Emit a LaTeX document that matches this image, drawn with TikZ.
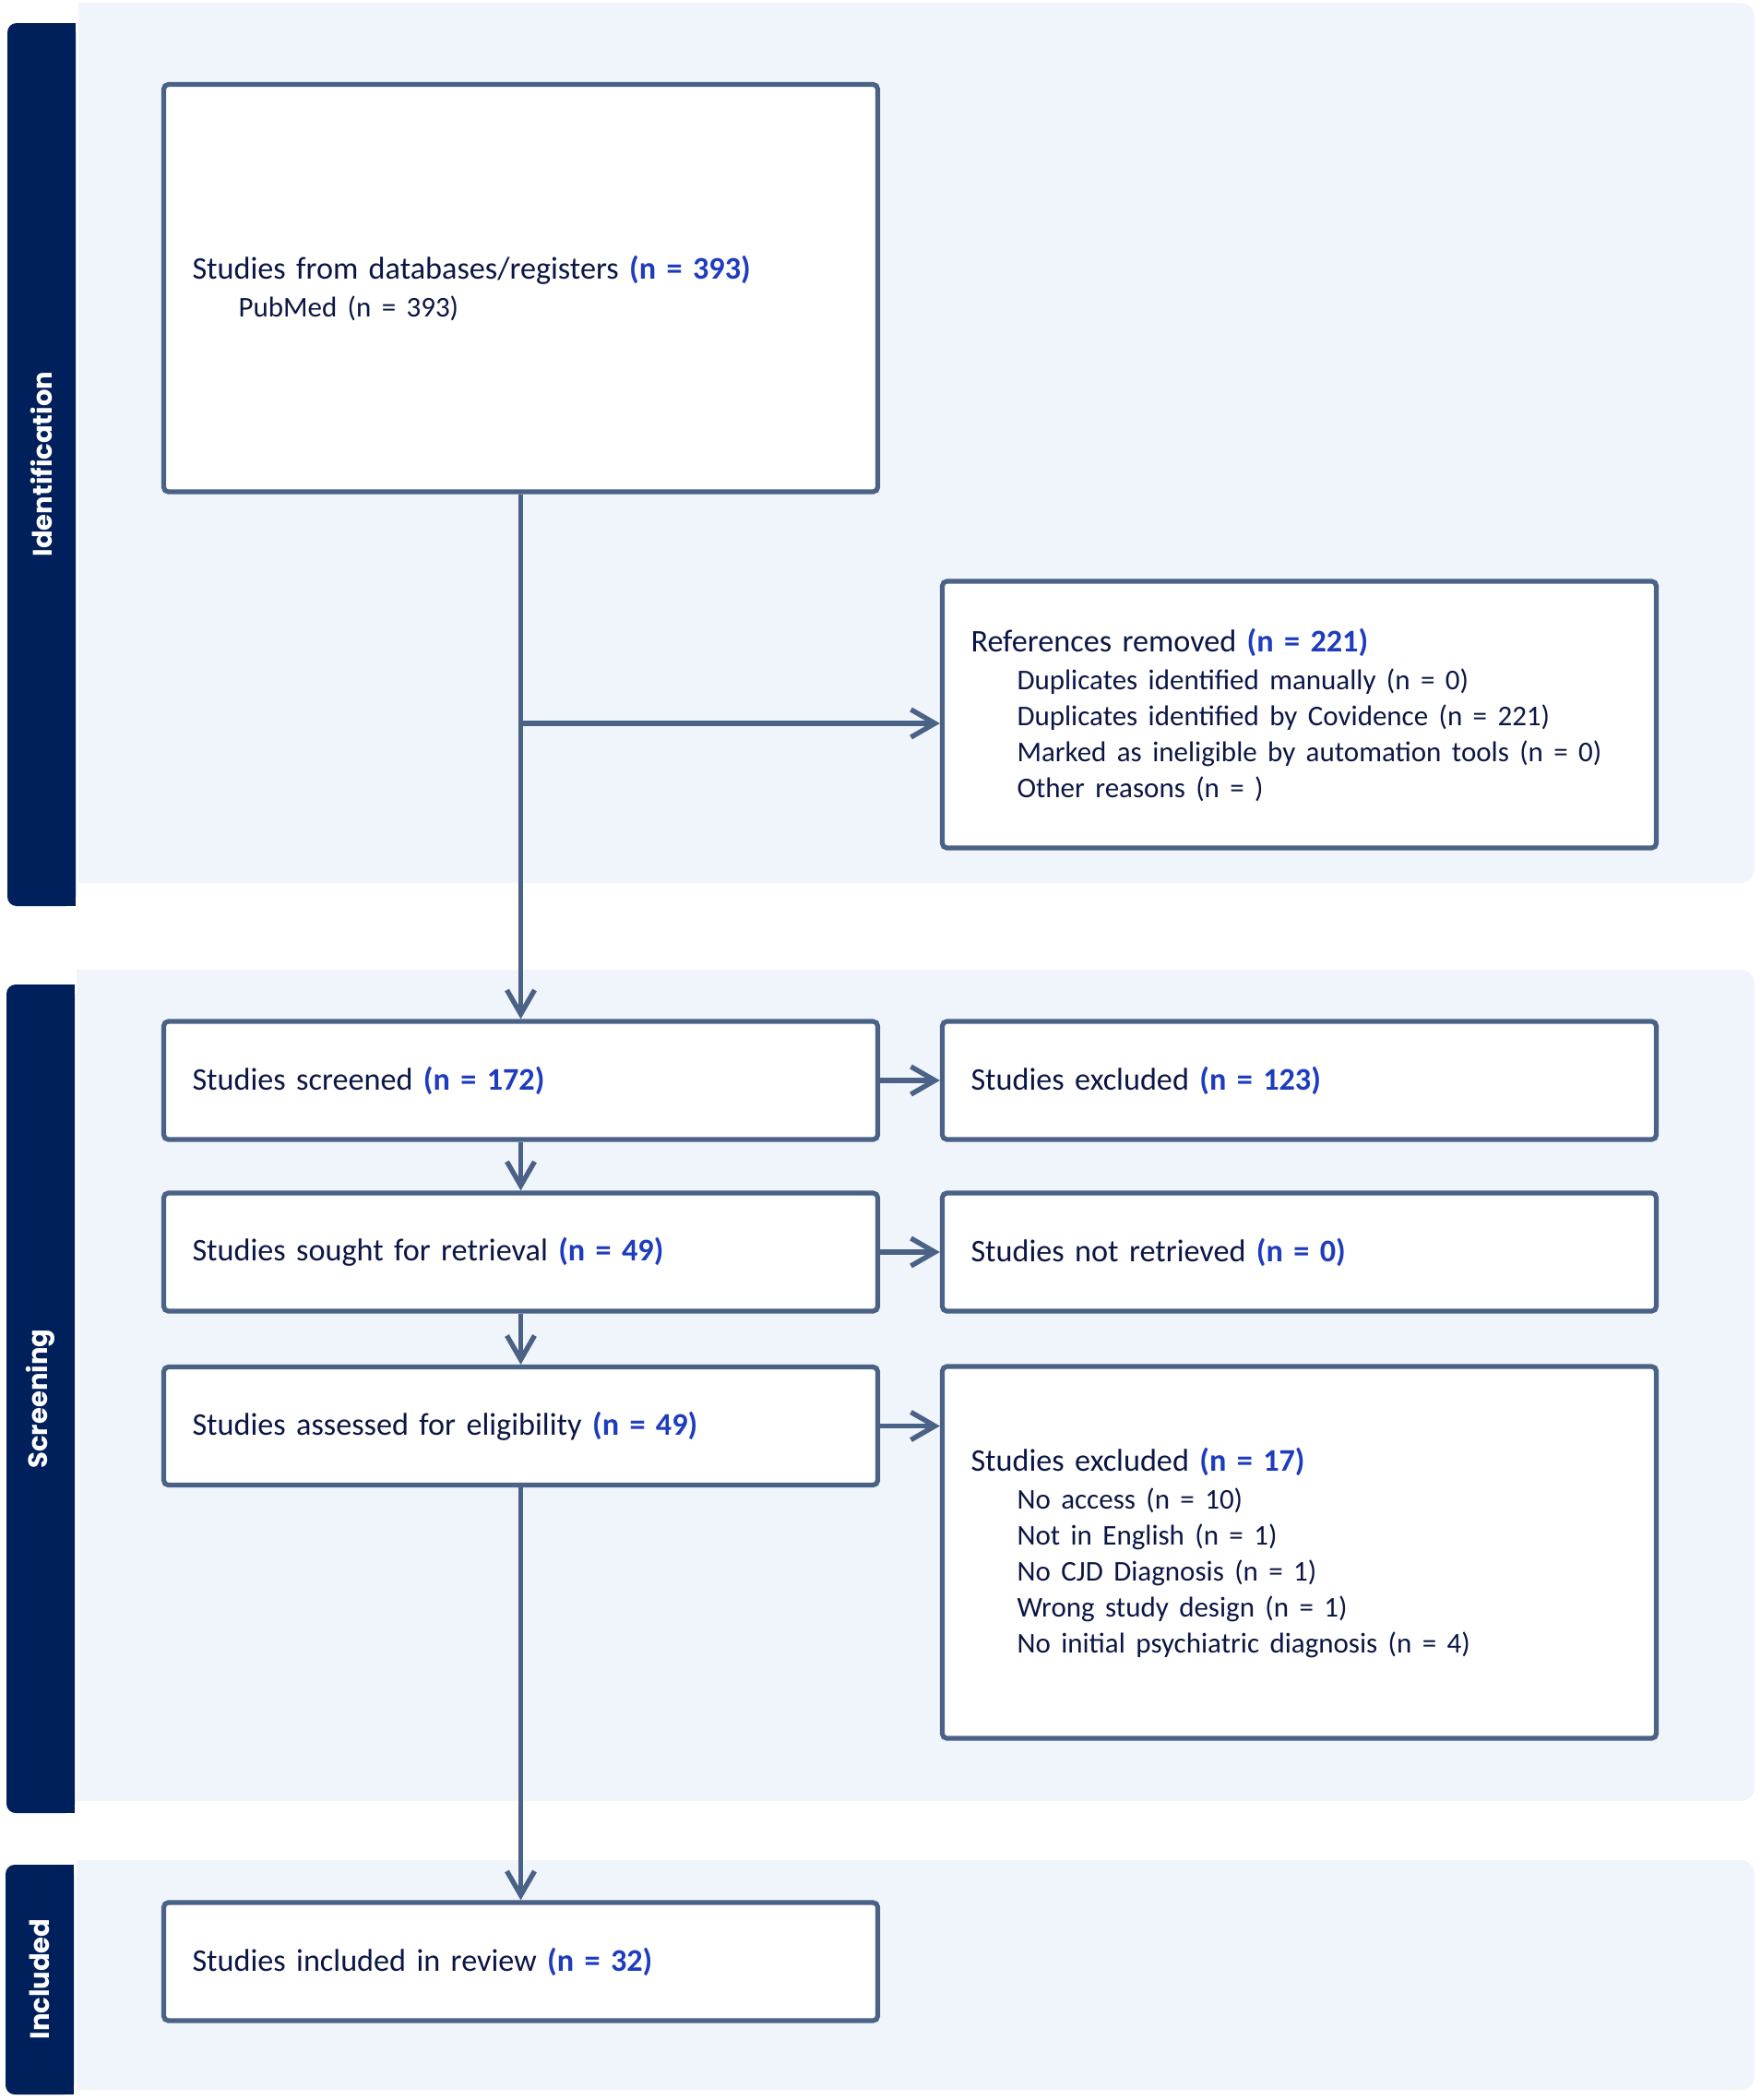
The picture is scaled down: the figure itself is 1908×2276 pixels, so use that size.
\documentclass[tikz,border=0pt]{standalone}
\usepackage{fontspec}
\setmainfont{Carlito}[WordSpace=0.88]
\newfontfamily\bandfont{Poppins}
\usetikzlibrary{arrows.meta}
\definecolor{navy}{RGB}{0,32,91}
\definecolor{bandbg}{RGB}{240,245,252}
\definecolor{edge}{RGB}{74,98,134}
\definecolor{ink}{RGB}{12,22,70}
\definecolor{nblue}{RGB}{30,60,190}
\newcommand{\nb}[1]{{\bfseries\color{nblue}#1}}
\newcommand{\subsz}{\fontsize{15.5}{19.5}\selectfont}
\newcommand{\ind}{\hspace*{25pt}}
\tikzset{
  boxnode/.style={draw=edge, line width=2.6pt, fill=white, rounded corners=2.5pt,
    align=left, inner xsep=15.5pt, inner ysep=0pt, text width=356pt,
    minimum width=387pt, text=ink, font=\fontsize{17.1}{19.5}\selectfont},
  flow/.style={draw=edge, line width=2.7pt, -{Straight Barb[length=13pt,width=15pt,line width=2.7pt]}},
  bandlabel/.style={text=white, font=\bandfont\bfseries\fontsize{14.5}{16}\selectfont, rotate=90}
}
\begin{document}
\begin{tikzpicture}[x=0.5pt,y=-0.5pt]
\useasboundingbox (0,0) rectangle (1908,2276);
% light bands
\fill[bandbg, rounded corners=7.5pt] (85,3) rectangle (1902,957);
\fill[bandbg] (85,3) rectangle (300,957);
\fill[bandbg, rounded corners=7.5pt] (83,1051) rectangle (1902,1952);
\fill[bandbg] (83,1051) rectangle (300,1952);
\fill[bandbg, rounded corners=7.5pt] (83,2016) rectangle (1902,2265);
\fill[bandbg] (83,2016) rectangle (300,2265);
% navy bars
\fill[navy, rounded corners=5pt] (8,25) rectangle (82,982);
\fill[navy] (40,25) rectangle (82,982);
\fill[navy, rounded corners=5pt] (7,1067) rectangle (81,1965);
\fill[navy] (40,1067) rectangle (81,1965);
\fill[navy, rounded corners=5pt] (6,2021) rectangle (80,2270);
\fill[navy] (40,2021) rectangle (80,2270);
\node[bandlabel] (lid) at (45,503) {Identification};
\node[bandlabel] (lscr) at (44,1516) {Screening};
\node[bandlabel] (linc) at (43,2145) {Included};
% boxes
\node[boxnode, minimum height=220.75pt] (b1) at (564.5,312.25)
  {Studies from databases/registers \nb{(n = 393)}\\[1pt]
   {\subsz\ind PubMed (n = 393)}};
\node[boxnode, minimum height=144.5pt] (ref) at (1408.5,774.5)
  {References removed \nb{(n = 221)}\\[1pt]
   {\subsz\ind Duplicates identified manually (n = 0)}\\
   {\subsz\ind Duplicates identified by Covidence (n = 221)}\\
   {\subsz\ind Marked as ineligible by automation tools (n = 0)}\\
   {\subsz\ind Other reasons (n = )}};
\node[boxnode, minimum height=64pt] (scr) at (564.5,1171) {Studies screened \nb{(n = 172)}};
\node[boxnode, minimum height=64pt] (exc1) at (1408.5,1171) {Studies excluded \nb{(n = 123)}};
\node[boxnode, minimum height=64pt] (sought) at (564.5,1357) {Studies sought for retrieval \nb{(n = 49)}};
\node[boxnode, minimum height=64pt] (notret) at (1408.5,1357) {Studies not retrieved \nb{(n = 0)}};
\node[boxnode, minimum height=64pt] (assess) at (564.5,1545.5) {Studies assessed for eligibility \nb{(n = 49)}};
\node[boxnode, minimum height=201.5pt] (exc2) at (1408.5,1682.5)
  {Studies excluded \nb{(n = 17)}\\[1pt]
   {\subsz\ind No access (n = 10)}\\
   {\subsz\ind Not in English (n = 1)}\\
   {\subsz\ind No CJD Diagnosis (n = 1)}\\
   {\subsz\ind Wrong study design (n = 1)}\\
   {\subsz\ind No initial psychiatric diagnosis (n = 4)}};
\node[boxnode, minimum height=64pt] (incl) at (564.5,2126) {Studies included in review \nb{(n = 32)}};
% connectors
\coordinate (br) at (564.5,784);
\draw[flow] (b1.south) -- (scr.north);
\draw[flow] (br) -- (br -| ref.west);
\draw[flow] (scr.east) -- (exc1.west);
\draw[flow] (scr.south) -- (sought.north);
\draw[flow] (sought.east) -- (notret.west);
\draw[flow] (sought.south) -- (assess.north);
\draw[flow] (assess.east) -- (assess.east -| exc2.west);
\draw[flow] (assess.south) -- (incl.north);
\end{tikzpicture}
\end{document}
